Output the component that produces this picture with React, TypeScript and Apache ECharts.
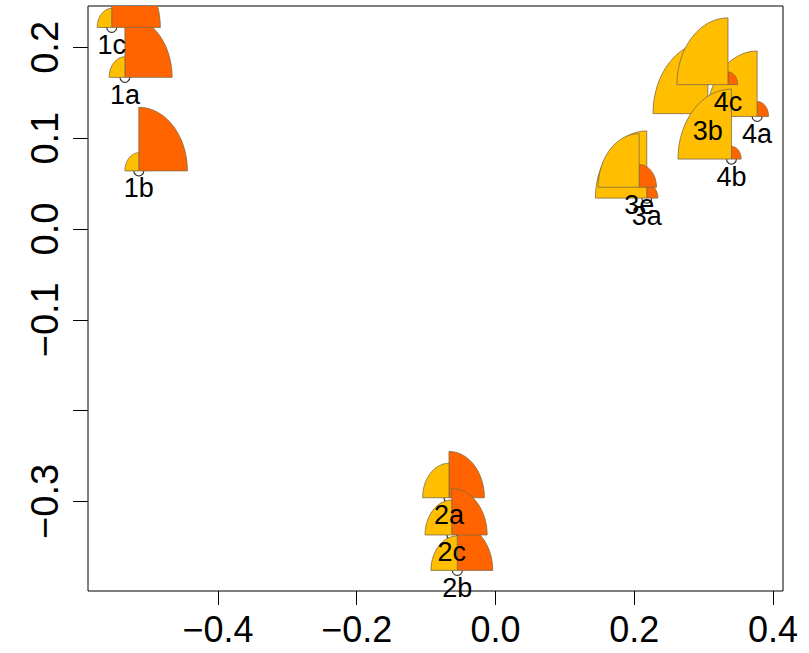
import React, { useEffect, useRef } from 'react';
import * as echarts from 'echarts';

// Point names, positions and the two segment values (radius in data units)
const pointNames = ['1a', '1b', '1c', '2a', '2b', '2c', '3a', '3b', '3e', '4a', '4b', '4c'];
const xValues = [-0.534, -0.514, -0.553, -0.067, -0.055, -0.063, 0.218, 0.306, 0.207, 0.377, 0.340, 0.335];
const yValues = [0.167, 0.064, 0.222, -0.296, -0.376, -0.337, 0.034, 0.127, 0.046, 0.124, 0.077, 0.159];
const orangeValues = [0.068, 0.070, 0.070, 0.051, 0.051, 0.051, 0.016, 0.012, 0.025, 0.0165, 0.014, 0.014];
const yellowValues = [0.0227, 0.020, 0.021, 0.038, 0.038, 0.0385, 0.074, 0.079, 0.059, 0.072, 0.077, 0.0735];

const xTickValues = [-0.4, -0.2, 0, 0.2, 0.4];
const yTickValues = [-0.3, -0.2, -0.1, 0, 0.1, 0.2];
const yLabelValues = [-0.3, -0.1, 0, 0.1, 0.2];
const xRange = [-0.5872, 0.4143];
const yRange = [-0.3987, 0.2456];

const ORANGE = '#FF6400';
const YELLOW = '#FFBF00';
const EDGE = '#7f6a40';
const FONT = "'Liberation Sans', Arial, Helvetica, sans-serif";

const fmt = (v: number) => {
  const s = Number(v).toFixed(1);
  return s.startsWith('-') ? '\u2212' + s.slice(1) : s;
};

export default function App() {
  const ref = useRef<HTMLDivElement>(null);
  useEffect(() => {
    document.body.style.margin = '0';
    const chart = echarts.init(ref.current!, null, { renderer: 'svg' });
    const pts = pointNames.map((n, i) => [xValues[i], yValues[i], n]);
    const glyphs = pointNames.map((n, i) => [xValues[i], yValues[i], orangeValues[i], yellowValues[i]]);
    chart.setOption({
      animation: false,
      backgroundColor: '#ffffff',
      grid: {
        left: 88, right: 26, top: 6, bottom: 62,
        show: true, borderColor: '#000', borderWidth: 1, backgroundColor: 'transparent',
      },
      xAxis: {
        type: 'value', min: xRange[0], max: xRange[1],
        axisLine: { show: false, onZero: false },
        splitLine: { show: false },
        axisTick: { show: true, length: 14, customValues: xTickValues, lineStyle: { color: '#000', width: 1 } },
        axisLabel: {
          customValues: xTickValues, formatter: fmt, margin: 20,
          fontSize: 36, color: '#000', fontFamily: FONT,
        },
      },
      yAxis: {
        type: 'value', min: yRange[0], max: yRange[1],
        axisLine: { show: false, onZero: false },
        splitLine: { show: false },
        axisTick: { show: true, length: 15, customValues: yTickValues, lineStyle: { color: '#000', width: 1 } },
        axisLabel: {
          customValues: yLabelValues, formatter: fmt, margin: 24, rotate: 90,
          fontSize: 38, color: '#000', fontFamily: FONT,
        },
      },
      series: [
        {
          type: 'scatter', z: 2, data: pts,
          symbol: 'circle', symbolSize: 10,
          itemStyle: { color: 'transparent', borderColor: '#000', borderWidth: 1.2 },
        },
        {
          type: 'custom', z: 3, clip: true, data: glyphs,
          encode: { x: 0, y: 1 },
          renderItem: (params: any, api: any) => {
            const cx = api.value(0), cy = api.value(1);
            const ro = api.value(2), ry = api.value(3);
            const quarter = (r: number, a0: number, a1: number) => {
              const p: number[][] = [api.coord([cx, cy])];
              for (let k = 0; k <= 30; k++) {
                const t = a0 + ((a1 - a0) * k) / 30;
                p.push(api.coord([cx + r * Math.cos(t), cy + r * Math.sin(t)]));
              }
              return p;
            };
            return {
              type: 'group',
              children: [
                { type: 'polygon', shape: { points: quarter(ro, 0, Math.PI / 2) }, style: { fill: ORANGE, stroke: EDGE, lineWidth: 0.8 } },
                { type: 'polygon', shape: { points: quarter(ry, Math.PI / 2, Math.PI) }, style: { fill: YELLOW, stroke: EDGE, lineWidth: 0.8 } },
              ],
            };
          },
        },
        {
          type: 'scatter', z: 4, data: pts, symbolSize: 0.001,
          itemStyle: { color: '#000' },
          label: {
            show: true, position: 'bottom', distance: 4,
            formatter: (p: any) => p.data[2],
            fontSize: 27, color: '#000', opacity: 1, fontFamily: FONT,
          },
        },
      ],
    });
    return () => chart.dispose();
  }, []);
  return <div ref={ref} style={{ width: 809, height: 653 }} />;
}
